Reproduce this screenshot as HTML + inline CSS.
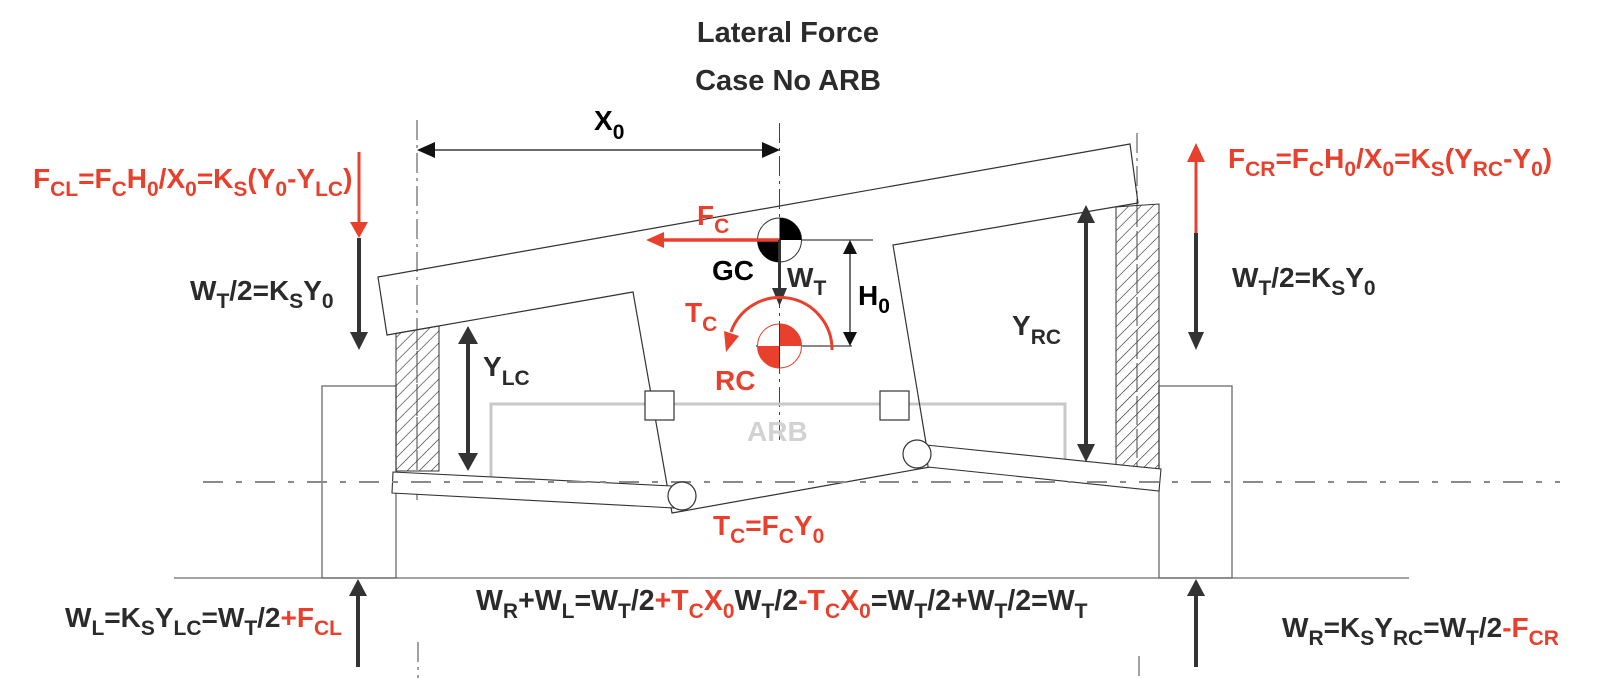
<!DOCTYPE html>
<html><head><meta charset="utf-8"><style>
html,body{margin:0;padding:0;background:#fff;}
svg{display:block;}
text{font-family:"Liberation Sans",Arial,sans-serif;font-weight:bold;font-size:28px;fill:#2b2b2b;}
.s{font-size:21px;}
.r{fill:#e8402d;}
.b{fill:#000;}
</style></head><body>
<svg width="1600" height="678" viewBox="0 0 1600 678" xmlns="http://www.w3.org/2000/svg">
<defs>
<pattern id="h" width="8.5" height="8.5" patternUnits="userSpaceOnUse" patternTransform="rotate(45)">
<line x1="0" y1="0" x2="0" y2="8.5" stroke="#222" stroke-width="1.2"/>
</pattern>
</defs>

<!-- title -->
<text x="788" y="42" text-anchor="middle" style="font-size:29px">Lateral Force</text>
<text x="788" y="90" text-anchor="middle" style="font-size:29px">Case No ARB</text>

<!-- ground & wheel blocks -->
<g stroke="#6a6a6a" stroke-width="1.3" fill="none">
<line x1="174" y1="578" x2="1409" y2="578"/>
<rect x="322" y="386" width="74" height="192"/>
<rect x="1159" y="386" width="73" height="192"/>
</g>

<!-- vertical dash-dot lines -->
<g stroke="#444" stroke-width="1" stroke-dasharray="20 5 3 5" fill="none">
<line x1="417" y1="120" x2="417" y2="500"/>
<line x1="418" y1="642" x2="418" y2="678"/>
<line x1="779.5" y1="123" x2="779.5" y2="440"/>
<line x1="1137" y1="133" x2="1137" y2="470"/>
<line x1="1139" y1="656" x2="1139" y2="678"/>
</g>

<!-- ARB -->
<polyline points="491,477 491,404 1065,404 1065,459" fill="none" stroke="#c8c8c8" stroke-width="3"/>
<text x="747" y="441" style="fill:#d2d2d2">ARB</text>

<!-- body outline -->
<polygon points="378,277 1130,144 1138,203 893,245 930,467 672,513 633,292 387,335" fill="none" stroke="#333" stroke-width="1.2"/>

<!-- hatched hubs -->
<polygon points="396,333.4 439,326 439,471 396,471" fill="url(#h)" stroke="#333" stroke-width="1"/>
<polygon points="1116,207 1159,204 1159,469 1116,466" fill="url(#h)" stroke="#333" stroke-width="1"/>
<line x1="417" y1="330" x2="417" y2="470" stroke="#444" stroke-width="1" stroke-dasharray="20 5 3 5"/>
<line x1="1137" y1="206" x2="1137" y2="466" stroke="#444" stroke-width="1" stroke-dasharray="20 5 3 5"/>

<!-- lower arms -->
<polygon points="393,472 672,486 675,508 392,493" fill="#fff" stroke="#333" stroke-width="1.1"/>
<polygon points="926,445 1161,469 1159,491 928,467" fill="#fff" stroke="#333" stroke-width="1.1"/>

<!-- horizontal dash-dot -->
<line x1="203" y1="482" x2="1560" y2="482" stroke="#8a8a8a" stroke-width="2" stroke-dasharray="20 13 6 13"/>

<!-- squares & ball joints -->
<rect x="645" y="391" width="29" height="29" fill="#fff" stroke="#333" stroke-width="1.2"/>
<rect x="880" y="391" width="29" height="29" fill="#fff" stroke="#333" stroke-width="1.2"/>
<circle cx="682" cy="496" r="14" fill="#fff" stroke="#333" stroke-width="1.2"/>
<circle cx="917" cy="454" r="14" fill="#fff" stroke="#333" stroke-width="1.2"/>

<!-- X0 dimension -->
<line x1="433" y1="150" x2="764" y2="150" stroke="#111" stroke-width="1.3"/>
<polygon points="417,150 435,142 435,158" fill="#111"/>
<polygon points="780,150 762,142 762,158" fill="#111"/>
<text x="594" y="130" class="b">X<tspan class="s" dy="9">0</tspan></text>

<!-- left FCL / WT/2 arrow -->
<line x1="359" y1="152" x2="359" y2="224" stroke="#e8402d" stroke-width="3"/>
<polygon points="359,238 350,222 368,222" fill="#e8402d"/>
<line x1="359" y1="238" x2="359" y2="334" stroke="#333" stroke-width="4"/>
<polygon points="359,350 350,332 368,332" fill="#333"/>

<!-- right FCR / WT/2 arrow -->
<polygon points="1196,143 1187,162 1205,162" fill="#e8402d"/>
<line x1="1196" y1="160" x2="1196" y2="233" stroke="#e8402d" stroke-width="3"/>
<line x1="1196" y1="233" x2="1196" y2="334" stroke="#333" stroke-width="4"/>
<polygon points="1196,350 1188,332 1204,332" fill="#333"/>

<!-- bottom reaction arrows -->
<polygon points="358,579 349,596 367,596" fill="#333"/>
<line x1="358" y1="594" x2="358" y2="667" stroke="#333" stroke-width="4"/>
<polygon points="1196,579 1187,596 1205,596" fill="#333"/>
<line x1="1196" y1="594" x2="1196" y2="667" stroke="#333" stroke-width="4"/>

<!-- YLC arrow -->
<line x1="468" y1="340" x2="468" y2="457" stroke="#333" stroke-width="4"/>
<polygon points="468,326 458,344 478,344" fill="#333"/>
<polygon points="468,471 458,453 478,453" fill="#333"/>

<!-- YRC arrow -->
<line x1="1086" y1="220" x2="1086" y2="447" stroke="#333" stroke-width="4"/>
<polygon points="1086,205 1077,223 1095,223" fill="#333"/>
<polygon points="1086,462 1077,444 1095,444" fill="#333"/>

<!-- H0 -->
<line x1="779.5" y1="240" x2="873" y2="240" stroke="#111" stroke-width="1.1"/>
<line x1="756" y1="346" x2="852" y2="346" stroke="#111" stroke-width="1.1"/>
<line x1="850" y1="252" x2="850" y2="334" stroke="#111" stroke-width="1.2"/>
<polygon points="850,240 843,254 857,254" fill="#111"/>
<polygon points="850,346 843,332 857,332" fill="#111"/>

<!-- GC symbol -->
<circle cx="779.5" cy="240" r="22" fill="#fff" stroke="#333" stroke-width="1"/>
<path d="M779.5,240 L779.5,218 A22,22 0 0 1 801.5,240 Z" fill="#000"/>
<path d="M779.5,240 L779.5,262 A22,22 0 0 1 757.5,240 Z" fill="#000"/>

<!-- RC symbol -->
<circle cx="779.5" cy="346" r="22" fill="#fff" stroke="#e8402d" stroke-width="1"/>
<path d="M779.5,346 L779.5,324 A22,22 0 0 1 801.5,346 Z" fill="#e8402d"/>
<path d="M779.5,346 L779.5,368 A22,22 0 0 1 757.5,346 Z" fill="#e8402d"/>
<line x1="779.5" y1="324" x2="779.5" y2="368" stroke="#333" stroke-width="1"/>

<!-- FC arrow -->
<line x1="779.5" y1="240" x2="662" y2="240" stroke="#e8402d" stroke-width="3.5"/>
<polygon points="646,240 664,232 664,248" fill="#e8402d"/>

<!-- WT arrow -->
<line x1="779.5" y1="240" x2="779.5" y2="292" stroke="#333" stroke-width="3"/>
<polygon points="779.5,306 772,288 787,288" fill="#333"/>

<!-- TC arc -->
<path d="M832,350 A52,52 0 0 0 731,332" fill="none" stroke="#e8402d" stroke-width="3"/>
<polygon points="726,352 739,336 724,331" fill="#e8402d"/>

<!-- labels -->
<text x="33" y="188" class="r">F<tspan class="s" dy="8">CL</tspan><tspan dy="-8">=F</tspan><tspan class="s" dy="8">C</tspan><tspan dy="-8">H</tspan><tspan class="s" dy="8">0</tspan><tspan dy="-8">/X</tspan><tspan class="s" dy="8">0</tspan><tspan dy="-8">=K</tspan><tspan class="s" dy="8">S</tspan><tspan dy="-8">(Y</tspan><tspan class="s" dy="8">0</tspan><tspan dy="-8">-Y</tspan><tspan class="s" dy="8">LC</tspan><tspan dy="-8">)</tspan></text>

<text x="190" y="300">W<tspan class="s" dy="8">T</tspan><tspan dy="-8">/2=K</tspan><tspan class="s" dy="8">S</tspan><tspan dy="-8">Y</tspan><tspan class="s" dy="8">0</tspan></text>

<text x="1228" y="168" class="r">F<tspan class="s" dy="8">CR</tspan><tspan dy="-8">=F</tspan><tspan class="s" dy="8">C</tspan><tspan dy="-8">H</tspan><tspan class="s" dy="8">0</tspan><tspan dy="-8">/X</tspan><tspan class="s" dy="8">0</tspan><tspan dy="-8">=K</tspan><tspan class="s" dy="8">S</tspan><tspan dy="-8">(Y</tspan><tspan class="s" dy="8">RC</tspan><tspan dy="-8">-Y</tspan><tspan class="s" dy="8">0</tspan><tspan dy="-8">)</tspan></text>

<text x="1232" y="287">W<tspan class="s" dy="8">T</tspan><tspan dy="-8">/2=K</tspan><tspan class="s" dy="8">S</tspan><tspan dy="-8">Y</tspan><tspan class="s" dy="8">0</tspan></text>

<text x="697" y="225" class="r">F<tspan class="s" dy="8">C</tspan></text>
<text x="712" y="280" class="b">GC</text>
<text x="787" y="287">W<tspan class="s" dy="8">T</tspan></text>
<text x="858" y="305" class="b">H<tspan class="s" dy="8">0</tspan></text>
<text x="685" y="322" class="r">T<tspan class="s" dy="9">C</tspan></text>
<text x="715" y="390" class="r">RC</text>

<text x="483" y="376">Y<tspan class="s" dy="9">LC</tspan></text>
<text x="1012" y="335">Y<tspan class="s" dy="9">RC</tspan></text>

<text x="713" y="535" class="r">T<tspan class="s" dy="8">C</tspan><tspan dy="-8">=F</tspan><tspan class="s" dy="8">C</tspan><tspan dy="-8">Y</tspan><tspan class="s" dy="8">0</tspan></text>

<text x="65" y="627">W<tspan class="s" dy="8">L</tspan><tspan dy="-8">=K</tspan><tspan class="s" dy="8">S</tspan><tspan dy="-8">Y</tspan><tspan class="s" dy="8">LC</tspan><tspan dy="-8">=W</tspan><tspan class="s" dy="8">T</tspan><tspan dy="-8">/2</tspan><tspan dy="0" class="r">+F</tspan><tspan class="s r" dy="8">CL</tspan></text>

<text x="476" y="610" style="font-size:28.5px">W<tspan class="s" dy="8">R</tspan><tspan dy="-8">+W</tspan><tspan class="s" dy="8">L</tspan><tspan dy="-8">=W</tspan><tspan class="s" dy="8">T</tspan><tspan dy="-8">/2</tspan><tspan class="r">+T</tspan><tspan class="s r" dy="8">C</tspan><tspan class="r" dy="-8">X</tspan><tspan class="s r" dy="8">0</tspan><tspan dy="-8">W</tspan><tspan class="s" dy="8">T</tspan><tspan dy="-8">/2</tspan><tspan class="r">-T</tspan><tspan class="s r" dy="8">C</tspan><tspan class="r" dy="-8">X</tspan><tspan class="s r" dy="8">0</tspan><tspan dy="-8">=W</tspan><tspan class="s" dy="8">T</tspan><tspan dy="-8">/2+W</tspan><tspan class="s" dy="8">T</tspan><tspan dy="-8">/2=W</tspan><tspan class="s" dy="8">T</tspan></text>

<text x="1282" y="637">W<tspan class="s" dy="8">R</tspan><tspan dy="-8">=K</tspan><tspan class="s" dy="8">S</tspan><tspan dy="-8">Y</tspan><tspan class="s" dy="8">RC</tspan><tspan dy="-8">=W</tspan><tspan class="s" dy="8">T</tspan><tspan dy="-8">/2</tspan><tspan class="r">-F</tspan><tspan class="s r" dy="8">CR</tspan></text>

</svg>
</body></html>
